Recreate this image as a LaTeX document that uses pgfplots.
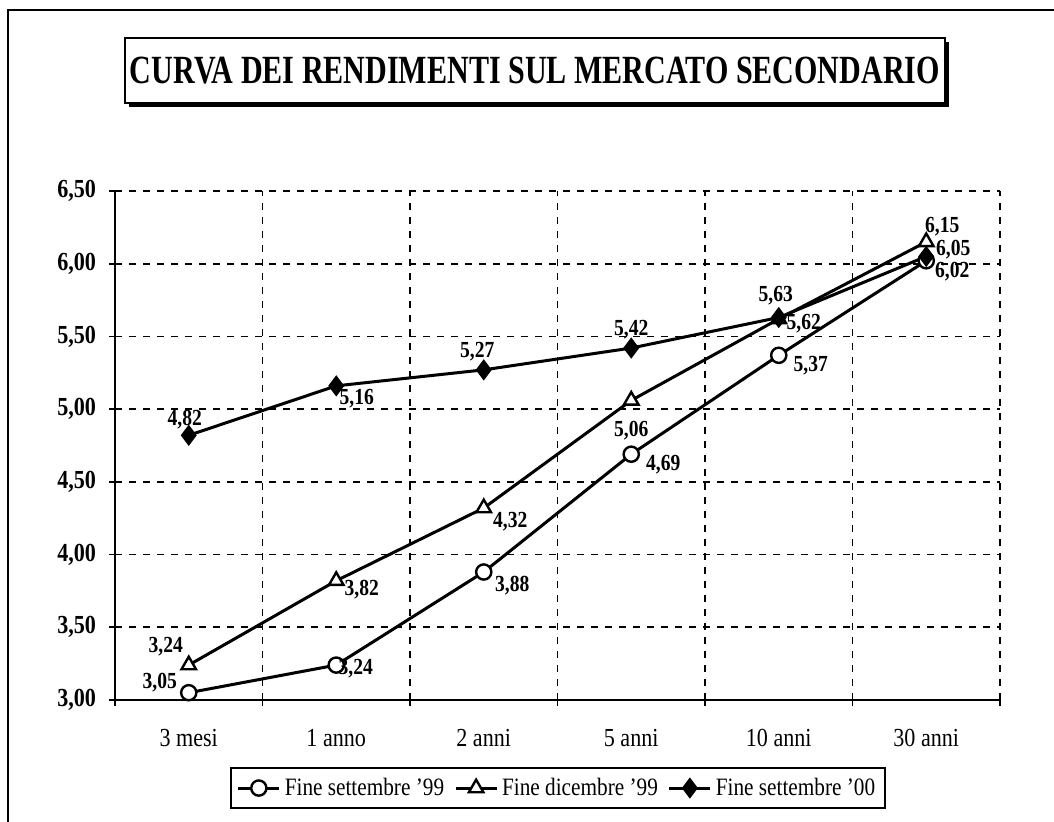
\documentclass[border=0pt]{standalone}
\usepackage{fontspec}
\setmainfont{Liberation Serif}[FakeStretch=0.85]
\usepackage{graphicx}
\usepackage{pgfplots}
\usepackage{pgfplotstable}
\pgfplotsset{compat=1.18}

\pgfplotstableread{
x y lab dx dy
0 3.05 {3,05} -14.5 5
1 3.24 {3,24} 9.75 -2
2 3.88 {3,88} 14.25 -7
3 4.69 {4,69} 16 -5
4 5.37 {5,37} 16 -5
5 6.02 {6,02} 13 -5.5
}\setnove

\pgfplotstableread{
x y lab dx dy
0 3.24 {3,24} -11.5 9
1 3.82 {3,82} 12.75 -4.5
2 4.32 {4,32} 13.25 -7
3 5.06 {5,06} 0 -15
4 5.62 {5,62} 12.5 -2.5
5 6.15 {6,15} 8 7.5
}\dicnove

\pgfplotstableread{
x y lab dx dy
0 4.82 {4,82} -2 8
1 5.16 {5,16} 10.25 -6.5
2 5.27 {5,27} -3.25 9
3 5.42 {5,42} 0 9
4 5.63 {5,63} -1.5 11
5 6.05 {6,05} 13.5 3.5
}\setzero

\pgfplotsset{lbl/.style={
  point meta=explicit symbolic,
  nodes near coords,
  visualization depends on={\thisrow{dx}\as\mydx},
  visualization depends on={\thisrow{dy}\as\mydy},
  every node near coord/.append style={anchor=center, font=\fontsize{11.5}{13}\selectfont\bfseries, inner sep=0pt, xshift=\mydx pt, yshift=\mydy pt},
}}

\begin{document}
\begin{tikzpicture}
\useasboundingbox (0pt,0pt) rectangle (527pt,411pt);
\draw[line width=0.9pt] (4pt,-5pt) -- (4pt,406pt) -- (535pt,406pt);
% title box with shadow
\fill[black] (64.5pt,357.5pt) rectangle (474.5pt,390pt);
\draw[fill=white, line width=0.8pt] (62.5pt,359.5pt) rectangle (472.5pt,392pt);
\node at (267.5pt,375.5pt) {\resizebox{405pt}{\height}{\fontsize{20}{24}\selectfont\bfseries CURVA DEI RENDIMENTI SUL MERCATO SECONDARIO}};
\begin{axis}[
  at={(57.5pt,61pt)}, anchor=south west,
  scale only axis, width=442.5pt, height=254.5pt,
  xmin=-0.5, xmax=5.5, ymin=3, ymax=6.5,
  xtick={-0.5,0.5,1.5,2.5,3.5,4.5,5.5},
  x tick label as interval,
  xticklabels={3 mesi,1 anno,2 anni,5 anni,10 anni,30 anni},
  ytick={3,3.5,4,4.5,5,5.5,6,6.5},
  grid=major,
  major grid style={black, line width=0.9pt, dash pattern=on 3.5pt off 3.5pt},
  axis x line*=bottom, axis y line*=left,
  axis line style={line width=1pt, -},
  tick align=center, major tick length=6pt,
  tick style={black, line width=0.9pt},
  yticklabel style={/pgf/number format/.cd, fixed, fixed zerofill, precision=2, use comma, assume math mode=true, /tikz/.cd, font=\fontsize{13}{15}\selectfont\bfseries, xshift=-3pt},
  xticklabel style={font=\fontsize{13}{15}\selectfont, yshift=-8pt},
  legend style={at={(0.5006,-0.173)}, anchor=center, draw=black, line width=0.8pt,
    font=\fontsize{12.5}{14}\selectfont, inner sep=3pt,
    /tikz/every even column/.append style={column sep=3pt}},
  legend image code/.code={\draw[mark repeat=2,mark phase=2,#1] plot coordinates {(0cm,0cm) (0.36cm,0cm) (0.72cm,0cm)};},
  legend columns=3,
]
\addplot[lbl, black, line width=1.5pt, mark=*, mark size=3.8pt, mark options={fill=white, line width=1.2pt}]
  table[x=x, y=y, meta=lab] {\setnove};
\addlegendentry{Fine settembre '99}
\addplot[lbl, black, line width=1.5pt, mark=triangle*, mark size=4.2pt, mark options={fill=white, line width=1.2pt}]
  table[x=x, y=y, meta=lab] {\dicnove};
\addlegendentry{Fine dicembre '99}
\addplot[lbl, black, line width=1.5pt, mark=diamond*, mark size=4.5pt, mark options={fill=black, line width=1pt}]
  table[x=x, y=y, meta=lab] {\setzero};
\addlegendentry{Fine settembre '00}
\end{axis}
\end{tikzpicture}
\end{document}
